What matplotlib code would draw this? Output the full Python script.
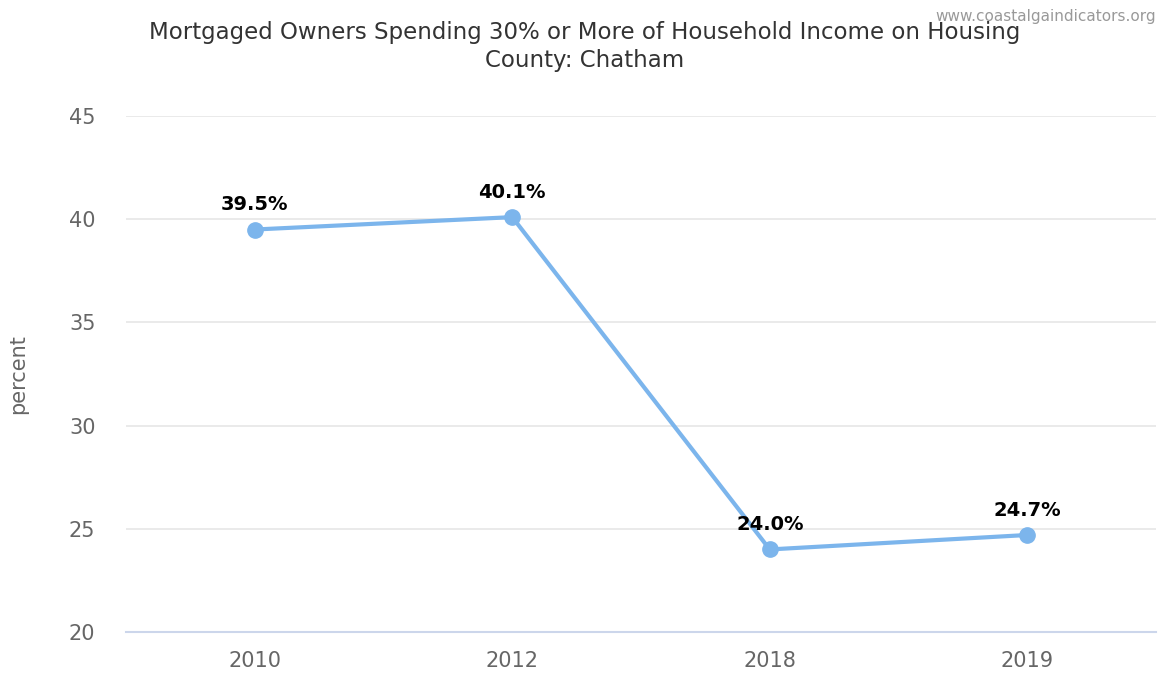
import matplotlib
matplotlib.use('Agg')
import matplotlib.pyplot as plt

years = ['2010', '2012', '2018', '2019']
values = [39.5, 40.1, 24.0, 24.7]
yticks = [20, 25, 30, 35, 40, 45]

line_color = '#7cb5ec'

fig = plt.figure(figsize=(11.58, 6.75), dpi=100)
ax = fig.add_axes([126 / 1158, 43 / 675, 1030 / 1158, 516 / 675])

x = list(range(len(years)))
ax.plot(x, values, '-o', color=line_color, linewidth=3, markersize=11,
        zorder=3, clip_on=False)
for xi, v in zip(x, values):
    ax.annotate(f'{v:.1f}%', (xi, v), xytext=(0, 11), textcoords='offset points',
                ha='center', va='bottom', fontsize=14, fontweight='bold',
                color='#000000', zorder=4)

ax.set_xlim(-0.5, len(years) - 0.5)
ax.set_ylim(20, 45)
ax.set_xticks(x)
ax.set_xticklabels(years)
ax.set_yticks(yticks)
ax.tick_params(axis='both', length=0, labelsize=15, labelcolor='#666666')
ax.tick_params(axis='x', pad=14)
ax.tick_params(axis='y', pad=22)
ax.grid(axis='y', color='#e6e6e6', linewidth=1.2)
ax.set_axisbelow(True)
for s in ('top', 'right', 'left'):
    ax.spines[s].set_visible(False)
ax.spines['bottom'].set_color('#ccd6eb')
ax.spines['bottom'].set_linewidth(1.5)

ax.set_ylabel('percent', fontsize=15, color='#666666')
ax.yaxis.set_label_coords(-0.095, 0.5)

fig.text(585 / 1158, 1 - 32 / 675, 'Mortgaged Owners Spending 30% or More of Household Income on Housing',
         ha='center', va='center', fontsize=16.5, color='#333333')
fig.text(585 / 1158, 1 - 61 / 675, 'County: Chatham',
         ha='center', va='center', fontsize=16.5, color='#333333')
fig.text(1156 / 1158, 1 - 16 / 675, 'www.coastalgaindicators.org',
         ha='right', va='center', fontsize=11, color='#999999')

fig.savefig('out.png', dpi=100)
